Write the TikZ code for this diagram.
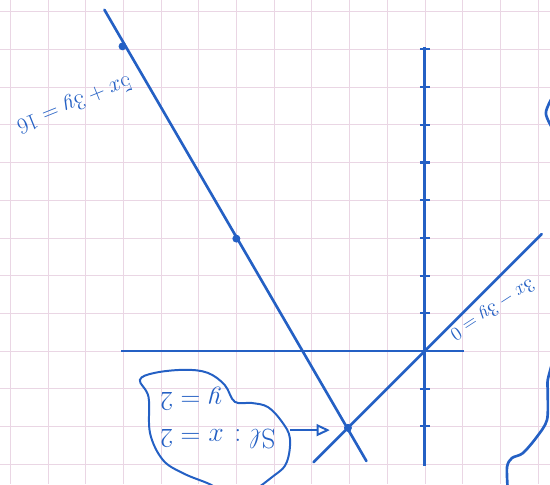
\documentclass[tikz,border=0pt]{standalone}
\usetikzlibrary{arrows.meta}
\definecolor{ink}{RGB}{36,96,196}
\definecolor{paper}{RGB}{234,214,228}

\begin{document}
\begin{tikzpicture}[x=-1cm, y=-1cm,
    gridline/.style={draw=paper, line width=0.5pt},
    axisline/.style={draw=ink, line width=2.2pt},
    lineplot/.style={draw=ink, line width=2pt, line cap=round},
    tick/.style={draw=ink, line width=1.6pt},
    dot/.style={circle, fill=ink, inner sep=0pt, minimum size=6pt},
    eqtext/.style={text=ink, font=\fontsize{17}{21}\selectfont},
    sebox/.style={text=ink, font=\fontsize{21}{28}\selectfont,
        align=right, rotate=180},
    pointer/.style={draw=ink, line width=1.5pt,
        -{Triangle[open, length=10pt, width=9pt]}},
    scribble/.style={draw=ink, line width=1.5pt, line cap=round}
]
    \useasboundingbox (11.27,-9.31) rectangle (-3.32,3.53);
    \clip (11.27,-9.31) rectangle (-3.32,3.53);
    \foreach \i in {-3,...,11}
        \draw[gridline] (\i,-9.31) -- (\i,3.53);
    \foreach \j in {-9,...,3}
        \draw[gridline] (-3.32,\j) -- (11.27,\j);

    \coordinate (origin) at (0,0);
    \coordinate (sol) at (2.04,2.04);
    \coordinate (tail) at (3.58,2.1);
    \coordinate (tip) at (2.52,2.1);

    \draw[axisline] (8.05,0) -- (-1.05,0);
    \draw[axisline] (0,-8.05) -- (0,3.05);
    \foreach \k in {-8,...,-1,1,2}
        \draw[tick] (0.13,\k) -- (-0.13,\k);

    \draw[lineplot] (-3.1,-3.1) -- (2.95,2.95);
    \draw[lineplot] (8.5,-9.05) -- (1.55,2.92);

    \node[dot] (pa) at (8.02,-8.08) {};
    \node[dot] (pb) at (5,-2.98) {};
    \node[dot] (pc) at (sol) {};

    \node[eqtext, rotate=202] (eqone) at (9.31,-6.58) {$5x+3y=16$};
    \node[eqtext, rotate=213, font=\fontsize{15}{19}\selectfont]
        (eqtwo) at (-1.78,-1.12) {$3x-3y=0$};
    \node[sebox] (se) at (5.49,1.78) {S$\ell$ : $x=2$\\$y=2$};

    \draw[pointer] (tail) -- (tip);

    \draw[scribble] plot[smooth cycle, tension=0.6] coordinates {
        (7.56,0.77) (7.16,0.58) (6.37,0.50) (5.76,0.58) (5.31,0.90)
        (5.04,1.35) (4.59,1.38) (4.16,1.49) (3.79,1.88) (3.58,2.31)
        (3.66,2.94) (3.98,3.29) (4.9,3.85) (5.78,3.50) (6.42,3.24)
        (6.95,2.89) (7.29,2.18) (7.33,1.22)};

    \draw[scribble, line width=2pt] plot[smooth] coordinates {
        (-3.45,-6.85) (-3.21,-6.31) (-3.45,-5.8)};
    \draw[scribble, line width=2pt] plot[smooth] coordinates {
        (-3.40,0.25) (-3.26,0.77) (-3.26,1.11) (-3.24,1.83)
        (-2.97,2.28) (-2.6,2.71) (-2.31,2.84) (-2.18,3.08) (-2.2,3.7)};
\end{tikzpicture}
\end{document}
